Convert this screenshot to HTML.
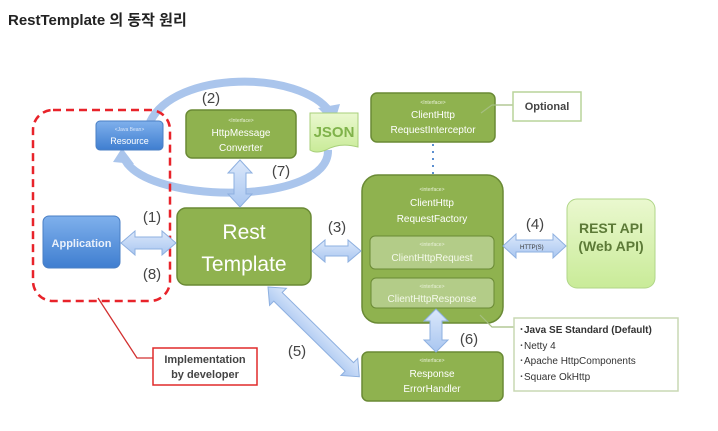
<!DOCTYPE html>
<html><head><meta charset="utf-8"><style>
html,body{margin:0;padding:0;background:#fff;width:718px;height:431px;overflow:hidden}
svg{display:block}
text{font-family:"Liberation Sans","Noto Sans CJK KR",sans-serif}
</style></head><body>
<svg width="718" height="431" viewBox="0 0 718 431" xmlns="http://www.w3.org/2000/svg">
<defs>
<linearGradient id="blue" x1="0" y1="0" x2="0" y2="1"><stop offset="0" stop-color="#7fb0ec"/><stop offset="1" stop-color="#3f7ed0"/></linearGradient>
<linearGradient id="arr" x1="0" y1="0" x2="0" y2="1"><stop offset="0" stop-color="#dbe8fb"/><stop offset="1" stop-color="#a9c6f0"/></linearGradient>
<linearGradient id="lg" x1="0" y1="0" x2="0" y2="1"><stop offset="0" stop-color="#eaf8cf"/><stop offset="1" stop-color="#c9eb98"/></linearGradient>
</defs>
<text x="8" y="25" font-size="15" font-weight="bold" fill="#222">RestTemplate 의 동작 원리</text>

<!-- arc -->
<path d="M150 122 C175 70 300 70 330 112" fill="none" stroke="#aac5ec" stroke-width="8"/>
<polygon points="318,108 340,104 334,124" fill="#aac5ec"/>
<path d="M328 150 C330 205 150 205 125 160" fill="none" stroke="#aac5ec" stroke-width="8"/>
<polygon points="113,162 122,148 134,164" fill="#aac5ec"/>

<!-- dashed -->
<rect x="33" y="110" width="137" height="191" rx="20" fill="none" stroke="#e8232a" stroke-width="2.5" stroke-dasharray="8,5"/>
<polyline points="98,298 137,358 153,358" fill="none" stroke="#d23030" stroke-width="1.3"/>
<rect x="153" y="348" width="104" height="37" fill="#fff" stroke="#e02a2a" stroke-width="1.5"/>
<text x="205" y="363" font-size="11" font-weight="bold" fill="#444" text-anchor="middle">Implementation</text>
<text x="205" y="378" font-size="11" font-weight="bold" fill="#444" text-anchor="middle">by developer</text>

<!-- Resource -->
<rect x="96" y="121" width="67" height="29" rx="4" fill="url(#blue)" stroke="#4a7fc4"/>
<text x="129.5" y="131" font-size="5" fill="#dbe8fb" text-anchor="middle">&lt;Java Bean&gt;</text>
<text x="129.5" y="144" font-size="9" fill="#fff" text-anchor="middle">Resource</text>

<!-- Application -->
<rect x="43" y="216" width="77" height="52" rx="6" fill="url(#blue)" stroke="#4a7fc4"/>
<text x="81.5" y="247" font-size="11" font-weight="bold" fill="#eaf1fb" text-anchor="middle">Application</text>

<!-- HttpMessageConverter -->
<rect x="186" y="110" width="110" height="48" rx="6" fill="#8fb24f" stroke="#6a8a35" stroke-width="1.5"/>
<text x="241" y="122" font-size="5" fill="#e8f1d8" text-anchor="middle">&lt;Interface&gt;</text>
<text x="241" y="136" font-size="10" fill="#fff" text-anchor="middle">HttpMessage</text>
<text x="241" y="151" font-size="10" fill="#fff" text-anchor="middle">Converter</text>

<!-- JSON -->
<path d="M310 113 H358 V147 Q340 142 326 150 Q316 154 310 150 Z" fill="url(#lg)" stroke="#a8cf7a"/>
<text x="334" y="137" font-size="15" font-weight="bold" fill="#7fb24a" text-anchor="middle">JSON</text>

<!-- RestTemplate -->
<rect x="177" y="208" width="134" height="77" rx="9" fill="#8fb24f" stroke="#6a8a35" stroke-width="1.5"/>
<text x="244" y="239" font-size="21" fill="#fff" text-anchor="middle">Rest</text>
<text x="244" y="271" font-size="21" fill="#fff" text-anchor="middle">Template</text>

<!-- Interceptor -->
<rect x="371" y="93" width="124" height="49" rx="6" fill="#8fb24f" stroke="#6a8a35" stroke-width="1.5"/>
<text x="433" y="104" font-size="5" fill="#e8f1d8" text-anchor="middle">&lt;Interface&gt;</text>
<text x="433" y="118" font-size="10" fill="#fff" text-anchor="middle">ClientHttp</text>
<text x="433" y="133" font-size="10" fill="#fff" text-anchor="middle">RequestInterceptor</text>
<line x1="433" y1="144" x2="433" y2="174" stroke="#5b8fd0" stroke-width="2" stroke-dasharray="2,5"/>
<polyline points="481,113 492,105 513,105" fill="none" stroke="#a5be80" stroke-width="1.2"/>
<rect x="513" y="92" width="68" height="29" fill="#fff" stroke="#b9d49a" stroke-width="1.5"/>
<text x="547" y="110" font-size="11" font-weight="bold" fill="#444" text-anchor="middle">Optional</text>

<!-- Factory -->
<rect x="362" y="175" width="141" height="148" rx="16" fill="#8fb24f" stroke="#6a8a35" stroke-width="1.5"/>
<text x="432" y="191" font-size="5" fill="#e8f1d8" text-anchor="middle">&lt;interface&gt;</text>
<text x="432" y="206" font-size="10" fill="#fff" text-anchor="middle">ClientHttp</text>
<text x="432" y="222" font-size="10" fill="#fff" text-anchor="middle">RequestFactory</text>
<rect x="370" y="236" width="124" height="33" rx="5" fill="#b3cc88" stroke="#6a8a35"/>
<text x="432" y="246" font-size="5" fill="#e8f1d8" text-anchor="middle">&lt;interface&gt;</text>
<text x="432" y="261" font-size="10" fill="#f4f9ea" text-anchor="middle">ClientHttpRequest</text>
<rect x="371" y="278" width="123" height="30" rx="5" fill="#b3cc88" stroke="#6a8a35"/>
<text x="432" y="288" font-size="5" fill="#e8f1d8" text-anchor="middle">&lt;interface&gt;</text>
<text x="432" y="302" font-size="10" fill="#f4f9ea" text-anchor="middle">ClientHttpResponse</text>
<polyline points="480,315 492,327 514,327" fill="none" stroke="#a5be80" stroke-width="1.2"/>

<!-- REST API -->
<rect x="567" y="199" width="88" height="89" rx="10" fill="url(#lg)" stroke="#b0d688"/>
<text x="611" y="233" font-size="14" font-weight="bold" fill="#5c7a37" text-anchor="middle">REST API</text>
<text x="611" y="251" font-size="14" font-weight="bold" fill="#5c7a37" text-anchor="middle">(Web API)</text>

<!-- ErrorHandler -->
<rect x="362" y="352" width="141" height="49" rx="6" fill="#8fb24f" stroke="#6a8a35" stroke-width="1.5"/>
<text x="432" y="362" font-size="5" fill="#e8f1d8" text-anchor="middle">&lt;interface&gt;</text>
<text x="432" y="377" font-size="10" fill="#fff" text-anchor="middle">Response</text>
<text x="432" y="392" font-size="10" fill="#fff" text-anchor="middle">ErrorHandler</text>

<!-- footnote -->
<rect x="514" y="318" width="164" height="73" fill="#fff" stroke="#c9d8b4" stroke-width="1.5"/>
<text x="519" y="333" font-size="10" font-weight="bold" fill="#333">･Java SE Standard (Default)</text>
<text x="519" y="349" font-size="10" fill="#333">･Netty 4</text>
<text x="519" y="364" font-size="10" fill="#333">･Apache HttpComponents</text>
<text x="519" y="380" font-size="10" fill="#333">･Square OkHttp</text>

<!-- arrows -->
<g fill="url(#arr)" stroke="#8eb0e0" stroke-width="1">
<polygon points="121,243 135,231 135,237 162,237 162,231 176,243 162,255 162,249 135,249 135,255"/>
<polygon points="312,251 325,240 325,246 348,246 348,240 361,251 348,262 348,256 325,256 325,262"/>
<polygon points="503,246 516,234 516,240 553,240 553,234 566,246 553,258 553,252 516,252 516,258"/>
<polygon points="240,160 252,173 246,173 246,194 252,194 240,207 228,194 234,194 234,173 228,173"/>
<polygon points="436,309 448,321 442,321 442,340 448,340 436,352 424,340 430,340 430,321 424,321"/>
<polygon points="0,0 14,-12 14,-6 114,-6 114,-12 128,0 114,12 114,6 14,6 14,12" transform="translate(268,287) rotate(44.5)"/>
</g>
<text x="520" y="249" font-size="6" fill="#333">HTTP(S)</text>

<!-- numbers -->
<g font-size="15" fill="#444" text-anchor="middle">
<text x="211" y="103">(2)</text>
<text x="281" y="176">(7)</text>
<text x="152" y="222">(1)</text>
<text x="152" y="279">(8)</text>
<text x="337" y="232">(3)</text>
<text x="535" y="229">(4)</text>
<text x="469" y="344">(6)</text>
<text x="297" y="356">(5)</text>
</g>
</svg>
</body></html>
